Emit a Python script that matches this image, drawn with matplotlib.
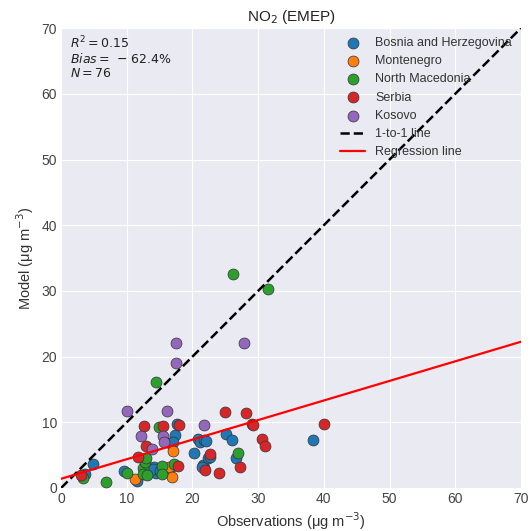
import matplotlib
matplotlib.use("Agg")
import matplotlib.pyplot as plt
import numpy as np

# ---- data ----
bosnia_obs = [3.7, 4.8, 9.6, 11.6, 14.2, 14.3, 14.5, 16.6, 16.6, 17.4, 17.6, 20.2, 20.8, 21.2,
              21.8, 21.6, 21.8, 22.4, 22.6, 25.1, 26.0, 26.6, 38.3, 17.0, 14.0, 21.4, 22.0, 15.0]
bosnia_mod = [2.2, 3.6, 2.6, 1.1, 3.2, 2.5, 2.3, 3.0, 6.9, 8.0, 9.8, 5.3, 7.4, 7.0,
              7.3, 3.5, 3.0, 4.5, 4.7, 8.2, 7.3, 4.6, 7.3, 7.0, 2.9, 3.2, 7.2, 2.6]

montenegro_obs = [11.3, 16.5, 16.9, 17.1]
montenegro_mod = [1.3, 3.2, 1.6, 5.6]

macedonia_obs = [3.3, 6.8, 10.1, 12.5, 12.4, 13.1, 12.8, 13.0, 15.4, 15.4, 17.2, 14.9, 14.5, 26.2, 31.5, 27.0]
macedonia_mod = [1.45, 0.85, 2.3, 3.0, 2.1, 2.0, 4.0, 4.5, 3.3, 2.1, 3.7, 9.3, 16.1, 32.6, 30.3, 5.3]

serbia_obs = [3.0, 11.7, 12.6, 12.9, 15.5, 17.9, 17.8, 21.9, 22.6, 24.1, 25.0, 27.2, 28.1, 29.0, 29.2, 30.6, 31.0, 40.0]
serbia_mod = [2.0, 4.7, 9.4, 6.4, 9.4, 9.6, 3.3, 2.7, 5.1, 2.3, 11.6, 3.2, 11.4, 9.8, 9.6, 7.5, 6.4, 9.8]

kosovo_obs = [10.0, 16.1, 12.1, 15.5, 15.6, 13.9, 21.8, 17.5, 17.5, 27.8]
kosovo_mod = [11.7, 11.7, 7.9, 7.9, 7.0, 5.9, 9.6, 22.0, 19.0, 22.0]

countries = ["Bosnia and Herzegovina", "Montenegro", "North Macedonia", "Serbia", "Kosovo"]
colors = ["#1f77b4", "#ff7f0e", "#2ca02c", "#d62728", "#9467bd"]

reg_intercept = 1.4
reg_slope = 0.298
r2_text = "0.15"
bias_text = "62.4"
n_text = "76"

ticks = [0, 10, 20, 30, 40, 50, 60, 70]

plt.style.use("seaborn-v0_8-darkgrid")
plt.rcParams['font.family'] = ['Liberation Sans', 'DejaVu Sans']

fig = plt.figure(figsize=(5.31, 5.31), dpi=100)
ax = fig.add_axes([0.115, 0.081, 0.866, 0.866])

series = [(bosnia_obs, bosnia_mod), (montenegro_obs, montenegro_mod),
          (macedonia_obs, macedonia_mod), (serbia_obs, serbia_mod), (kosovo_obs, kosovo_mod)]
for (xs, ys), name, c in zip(series, countries, colors):
    ax.scatter(xs, ys, s=62, color=c, edgecolor="#333333", linewidth=0.5, label=name, zorder=3)

lim = np.array([0, 70])
ax.plot(lim, lim, "k--", lw=1.8, label="1-to-1 line", zorder=4)
ax.plot(lim, reg_intercept + reg_slope * lim, color="red", lw=1.6, label="Regression line", zorder=4)

ax.set_xlim(0, 70)
ax.set_ylim(0, 70)
ax.set_xticks(ticks)
ax.set_yticks(ticks)
ax.tick_params(labelsize=10, colors="#444444", pad=3)
ax.set_xlabel("Observations (μg m$^{-3}$)", fontsize=10.5, color="#333333", labelpad=3)
ax.set_ylabel("Model (μg m$^{-3}$)", fontsize=10.5, color="#333333", labelpad=4)
ax.set_title("NO$_2$ (EMEP)", fontsize=11, color="#222222", pad=5)

ax.text(0.02, 0.985, "$R^2 = %s$\n$Bias = \\,-\\,%s\\%%$\n$N = %s$" % (r2_text, bias_text, n_text),
        transform=ax.transAxes, va="top", ha="left", fontsize=9, color="#222222",
        linespacing=1.05)

leg = ax.legend(loc="upper right", fontsize=9, frameon=False, labelspacing=0.5,
                handlelength=2.0, borderaxespad=0.3)
for t in leg.get_texts():
    t.set_color("#333333")

fig.savefig("out.png", dpi=100)
